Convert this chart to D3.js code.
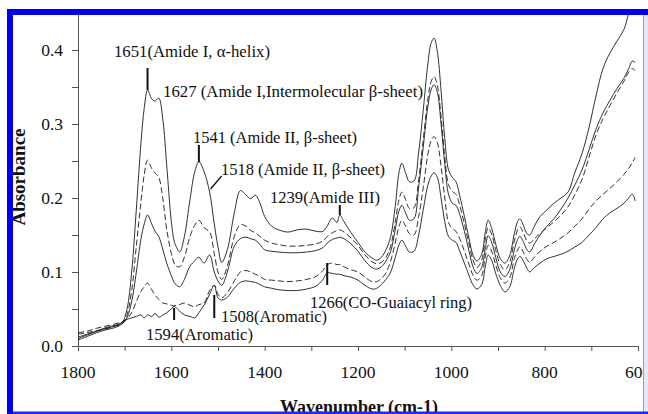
<!DOCTYPE html>
<html>
<head>
<meta charset="utf-8">
<script src="https://cdn.jsdelivr.net/npm/d3@7"></script>
<style>
  html, body { margin: 0; padding: 0; background: #fff; }
  svg { display: block; }
</style>
</head>
<body>
<svg id="chart" width="648" height="414"></svg>
<script>
// FTIR absorbance spectra, 1800–600 cm-1, five samples on a shared wavenumber grid
const wavenumbers = [
  1800,1780,1760,1740,1720,1705,1695,1685,1675,1665,
  1658,1651,1642,1635,1627,1618,1610,1600,1594,1590,
  1582,1572,1560,1550,1541,1530,1518,1508,1500,1492,
  1480,1465,1452,1440,1430,1420,1410,1400,1385,1370,
  1350,1330,1310,1290,1275,1266,1255,1245,1239,1230,
  1215,1200,1185,1170,1160,1150,1140,1130,1120,1112,
  1106,1098,1090,1080,1070,1060,1050,1043,1037,1030,
  1022,1014,1006,998,990,982,972,962,953,945,
  935,927,921,913,905,895,885,875,865,858,
  853,845,838,832,822,810,795,780,765,750,
  735,720,705,690,675,660,645,630,620,612,
  606
];

const sample1 = [
  .012,.016,.020,.024,.027,.032,.050,.100,.185,.275,
  .322,.346,.334,.331,.335,.305,.245,.168,.142,.135,
  .127,.148,.198,.235,.249,.236,.208,.165,.134,.113,
  .130,.180,.210,.204,.199,.204,.193,.175,.162,.157,
  .154,.157,.158,.155,.155,.162,.173,.167,.177,.168,
  .153,.140,.127,.119,.116,.120,.130,.148,.190,.235,
  .247,.234,.222,.223,.262,.320,.383,.410,.416,.398,
  .345,.280,.238,.228,.222,.203,.175,.145,.122,.115,
  .124,.155,.170,.158,.138,.118,.112,.122,.152,.168,
  .172,.162,.152,.150,.162,.175,.184,.193,.200,.208,
  .235,.260,.295,.338,.375,.396,.412,.428,.450,.470,
  .490
];

const sample2 = [
  .016,.018,.021,.023,.027,.030,.042,.075,.135,.195,
  .232,.251,.240,.234,.228,.198,.158,.125,.112,.108,
  .107,.120,.148,.163,.170,.160,.154,.125,.100,.090,
  .108,.148,.164,.162,.156,.153,.148,.143,.139,.137,
  .135,.135,.136,.138,.142,.148,.153,.156,.157,.154,
  .146,.136,.123,.114,.111,.113,.120,.135,.168,.198,
  .208,.198,.186,.187,.225,.280,.335,.358,.364,.352,
  .310,.255,.218,.209,.205,.190,.165,.138,.115,.106,
  .116,.145,.160,.150,.130,.110,.103,.113,.142,.157,
  .161,.152,.142,.139,.145,.152,.160,.168,.177,.188,
  .205,.225,.255,.285,.307,.325,.342,.358,.370,.375,
  .372
];

const sample3 = [
  .008,.013,.018,.022,.025,.030,.038,.060,.100,.145,
  .165,.177,.165,.155,.148,.130,.112,.095,.086,.083,
  .080,.090,.108,.115,.120,.112,.123,.100,.088,.082,
  .100,.135,.145,.147,.145,.143,.137,.130,.128,.127,
  .126,.126,.127,.129,.133,.139,.144,.146,.147,.145,
  .138,.128,.115,.106,.104,.107,.115,.128,.158,.183,
  .190,.180,.170,.172,.215,.270,.325,.347,.353,.343,
  .300,.245,.205,.193,.190,.178,.155,.128,.106,.098,
  .106,.133,.149,.139,.120,.100,.094,.103,.130,.144,
  .148,.140,.130,.127,.138,.150,.162,.172,.185,.200,
  .218,.238,.265,.293,.315,.332,.348,.362,.375,.385,
  .383
];

const sample4 = [
  .018,.020,.024,.027,.030,.033,.037,.045,.060,.074,
  .080,.085,.076,.069,.063,.058,.057,.055,.054,.055,
  .056,.058,.055,.053,.056,.058,.075,.082,.070,.065,
  .072,.088,.100,.102,.100,.097,.094,.090,.089,.088,
  .087,.088,.090,.094,.102,.110,.112,.110,.110,.107,
  .103,.100,.093,.087,.087,.091,.099,.115,.140,.162,
  .170,.162,.152,.150,.175,.215,.260,.278,.283,.275,
  .243,.200,.167,.159,.155,.145,.128,.110,.095,.089,
  .095,.122,.136,.127,.110,.092,.085,.092,.118,.130,
  .134,.126,.117,.113,.120,.128,.135,.140,.146,.153,
  .162,.172,.185,.196,.205,.213,.222,.232,.240,.248,
  .255
];

const sample5 = [
  .010,.015,.020,.025,.028,.032,.036,.038,.040,.042,
  .038,.042,.040,.044,.039,.042,.045,.050,.054,.052,
  .047,.042,.040,.038,.045,.055,.070,.082,.065,.062,
  .066,.078,.086,.088,.087,.086,.083,.080,.078,.076,
  .075,.075,.077,.081,.090,.099,.098,.097,.097,.095,
  .093,.089,.082,.077,.078,.083,.090,.100,.120,.137,
  .143,.135,.127,.128,.150,.185,.218,.230,.234,.228,
  .200,.168,.148,.143,.140,.128,.112,.095,.082,.077,
  .083,.108,.123,.115,.098,.082,.073,.080,.105,.118,
  .121,.114,.105,.100,.106,.112,.118,.121,.124,.128,
  .134,.140,.150,.160,.172,.180,.186,.193,.200,.205,
  .196
];

const seriesNames = ["sample1", "sample2", "sample3", "sample4", "sample5"];
const seriesValues = [sample1, sample2, sample3, sample4, sample5];
const seriesDashed = [false, true, false, true, false];

const xTickValues = [1800, 1600, 1400, 1200, 1000, 800, 600];
const yTickValues = [0.0, 0.1, 0.2, 0.3, 0.4];

// band assignments marked on the spectra
const bandLabels = [
  { wn: 1651, text: "1651(Amide I, \u03b1-helix)" },
  { wn: 1627, text: "1627 (Amide I,Intermolecular \u03b2-sheet)" },
  { wn: 1541, text: "1541 (Amide II, \u03b2-sheet)" },
  { wn: 1518, text: "1518 (Amide II, \u03b2-sheet)" },
  { wn: 1239, text: "1239(Amide III)" },
  { wn: 1266, text: "1266(CO-Guaiacyl ring)" },
  { wn: 1508, text: "1508(Aromatic)" },
  { wn: 1594, text: "1594(Aromatic)" }
];

// ---- layout ----
const svg = d3.select("#chart");
const W = 648, H = 414;
const plot = { left: 78, right: 638, top: 13, bottom: 346 };

const x = d3.scaleLinear().domain([1800, 600]).range([plot.left, plot.right]);
const y = d3.scaleLinear().domain([0, 0.45]).range([plot.bottom, plot.bottom - 0.45 * 740]);

const serif = "'Liberation Serif', 'Times New Roman', serif";
const axisColor = "#555";

svg.append("rect").attr("width", W).attr("height", H).attr("fill", "#fff");

svg.append("defs").append("clipPath").attr("id", "plotClip")
  .append("rect").attr("x", plot.left).attr("y", 15)
  .attr("width", 643 - plot.left).attr("height", plot.bottom - 15);

// y axis
const yAxis = svg.append("g").attr("transform", `translate(${plot.left},0)`)
  .call(d3.axisLeft(y).tickValues(d3.range(0, 0.451, 0.05)).tickSize(6).tickFormat(""));
yAxis.select(".domain").attr("stroke", axisColor);
yAxis.selectAll(".tick line").attr("stroke", axisColor);

svg.append("g").selectAll("text").data(yTickValues).join("text")
  .attr("x", 63).attr("y", d => y(d) + 6)
  .attr("text-anchor", "end")
  .attr("font-family", serif).attr("font-size", 17.5).attr("fill", "#111")
  .text(d => d.toFixed(1));

// x axis
const xAxis = svg.append("g").attr("transform", `translate(0,${plot.bottom})`)
  .call(d3.axisBottom(x).tickValues(d3.range(1800, 599, -100)).tickSize(5).tickSizeOuter(0).tickFormat(""));
xAxis.select(".domain").attr("stroke", axisColor).attr("d", `M${plot.left},0.5H${plot.right + 1}`);
xAxis.selectAll(".tick line").attr("stroke", axisColor);

svg.append("g").selectAll("text").data(xTickValues).join("text")
  .attr("x", d => x(d)).attr("y", 378)
  .attr("text-anchor", "middle")
  .attr("font-family", serif).attr("font-size", 17.5).attr("fill", "#111")
  .text(d => d);

// axis titles
svg.append("text")
  .attr("transform", "translate(25,177) rotate(-90)")
  .attr("text-anchor", "middle")
  .attr("font-family", serif).attr("font-size", 19).attr("font-weight", "bold").attr("fill", "#111")
  .text("Absorbance");

svg.append("text")
  .attr("x", 359).attr("y", 413)
  .attr("text-anchor", "middle")
  .attr("font-family", serif).attr("font-size", 18).attr("font-weight", "bold").attr("fill", "#111")
  .text("Wavenumber (cm-1)");

// spectra
const line = d3.line()
  .x(d => x(d[0]))
  .y(d => y(d[1]))
  .curve(d3.curveCatmullRom.alpha(0.5));

const gLines = svg.append("g").attr("clip-path", "url(#plotClip)");
seriesValues.forEach((vals, i) => {
  const pts = wavenumbers.map((w, k) => [w, vals[k]]);
  gLines.append("path")
    .datum(pts)
    .attr("class", seriesNames[i])
    .attr("d", line)
    .attr("fill", "none")
    .attr("stroke", "#1a1a1a")
    .attr("stroke-width", 0.9)
    .attr("stroke-dasharray", seriesDashed[i] ? "6,3" : null);
});

// band annotations: text placement and marker lines (pixel layout)
const bandLayout = {
  1651: { tx: 114, ty: 57,  len: 156, mark: [[0, 68], [0, 90]] },
  1627: { tx: 163, ty: 97,  len: 260, mark: null },
  1541: { tx: 193, ty: 143, len: 164, mark: [[0, 145], [0, 162]] },
  1518: { tx: 221, ty: 175, len: 164, mark: [[1, 189], [12, 176]] },
  1239: { tx: 270, ty: 203, len: 110, mark: [[0, 205], [0, 215]] },
  1266: { tx: 310, ty: 308, len: 162, mark: [[0, 263], [0, 285]] },
  1508: { tx: 221, ty: 322, len: 106, mark: [[0, 295], [0, 318]] },
  1594: { tx: 146, ty: 340, len: 107, mark: [[0, 308], [0, 320]] }
};

const gAnn = svg.append("g");
bandLabels.forEach(b => {
  const L = bandLayout[b.wn];
  gAnn.append("text")
    .attr("x", L.tx).attr("y", L.ty)
    .attr("font-family", serif).attr("font-size", 16).attr("fill", "#111")
    .attr("textLength", L.len).attr("lengthAdjust", "spacingAndGlyphs")
    .text(b.text);
  if (L.mark) {
    const x0 = x(b.wn);
    gAnn.append("line")
      .attr("x1", x0 + L.mark[0][0]).attr("y1", L.mark[0][1])
      .attr("x2", x0 + L.mark[1][0]).attr("y2", L.mark[1][1])
      .attr("stroke", "#111").attr("stroke-width", L.mark[0][0] === 0 && L.mark[1][0] === 0 ? 2 : 1.3);
  }
});

// blue frame
const frame = svg.append("g");
frame.append("rect").attr("x", 643).attr("y", 9).attr("width", 5).attr("height", 405).attr("fill", "#e2e7fa");
frame.append("line").attr("x1", 643.5).attr("x2", 643.5).attr("y1", 9).attr("y2", 414).attr("stroke", "#8f9cf2").attr("stroke-width", 1);
frame.append("rect").attr("x", 7).attr("y", 411.5).attr("width", 641).attr("height", 2.5).attr("fill", "#1f2bf0");
frame.append("rect").attr("x", 7).attr("y", 9).attr("width", 641).attr("height", 6).attr("fill", "#0000ee");
frame.append("rect").attr("x", 7).attr("y", 9).attr("width", 6).attr("height", 405).attr("fill", "#0000ee");
</script>
</body>
</html>
